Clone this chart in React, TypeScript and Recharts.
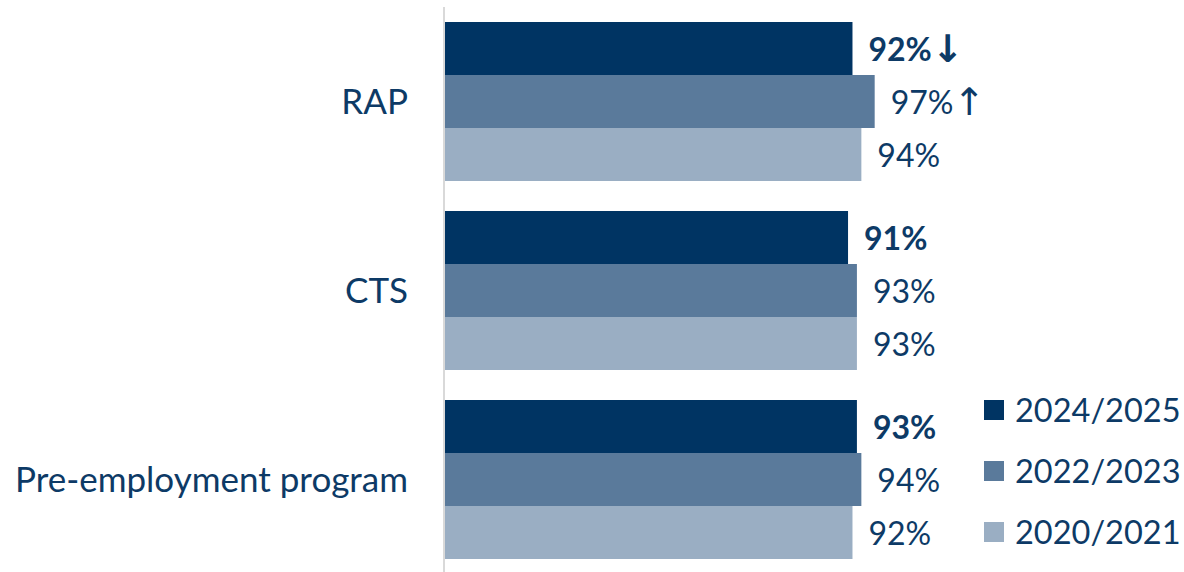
import React from 'react';
import { BarChart, Bar, XAxis, YAxis, LabelList } from 'recharts';

const categories = ['RAP', 'CTS', 'Pre-employment program'];
const values2024 = [92, 91, 93];
const values2022 = [97, 93, 94];
const values2020 = [94, 93, 92];
const trend2024 = ['↓', '', ''];
const trend2022 = ['↑', '', ''];
const trend2020 = ['', '', ''];

const series = [
    { key: 'y2024', name: '2024/2025', color: '#003463', bold: true, trend: trend2024 },
    { key: 'y2022', name: '2022/2023', color: '#5a7a9b', bold: false, trend: trend2022 },
    { key: 'y2020', name: '2020/2021', color: '#9aaec3', bold: false, trend: trend2020 },
];

const data = categories.map((name, i) => ({
    name,
    y2024: values2024[i],
    y2022: values2022[i],
    y2020: values2020[i],
}));

const textColor = '#0d3a66';
const fontFamily = 'Lato, "Open Sans", sans-serif';

const makeLabel = (bold: boolean, trend: string[]) => (props: any) => {
    const { x, y, width, height, value, index } = props;
    const arrow = trend[index] || '';
    return (
        <text
            x={x + width + 16}
            y={y + height / 2}
            dominantBaseline="central"
            fill={textColor}
            fontSize={32}
            fontWeight={bold ? 700 : 400}
            fontFamily={fontFamily}
        >
            {`${value}%`}
            {arrow && (
                <tspan fontSize={38} fontFamily='"DejaVu Sans", sans-serif'>
                    {arrow}
                </tspan>
            )}
        </text>
    );
};

const LegendBox = () => (
    <div style={{ position: 'absolute', left: 984, top: 379, fontFamily, color: textColor }}>
        {series.map((s) => (
            <div key={s.key} style={{ display: 'flex', alignItems: 'center', height: 61 }}>
                <div style={{ width: 20, height: 20, background: s.color, marginRight: 11 }} />
                <span style={{ fontSize: 32.5 }}>{s.name}</span>
            </div>
        ))}
    </div>
);

const App: React.FC = () => {
    return (
        <div style={{ position: 'absolute', left: 0, top: 0, width: 1184, height: 572, overflow: 'hidden', background: '#fff' }}>
            <BarChart
                width={1184}
                height={576}
                data={data}
                layout="vertical"
                margin={{ top: 7, right: 296, bottom: 2, left: 0 }}
                barCategoryGap={15}
                barGap={0}
            >
                <XAxis type="number" domain={[0, 100]} hide />
                <YAxis
                    type="category"
                    dataKey="name"
                    width={444}
                    axisLine={{ stroke: '#d9d9d9', strokeWidth: 2 }}
                    tickLine={false}
                    tickMargin={30}
                    tick={{ fill: textColor, fontSize: 35, fontFamily }}
                />
                {series.map((s) => (
                    <Bar key={s.key} dataKey={s.key} name={s.name} fill={s.color} isAnimationActive={false}>
                        <LabelList dataKey={s.key} content={makeLabel(s.bold, s.trend)} />
                    </Bar>
                ))}
            </BarChart>
            <LegendBox />
        </div>
    );
};

export default App;
